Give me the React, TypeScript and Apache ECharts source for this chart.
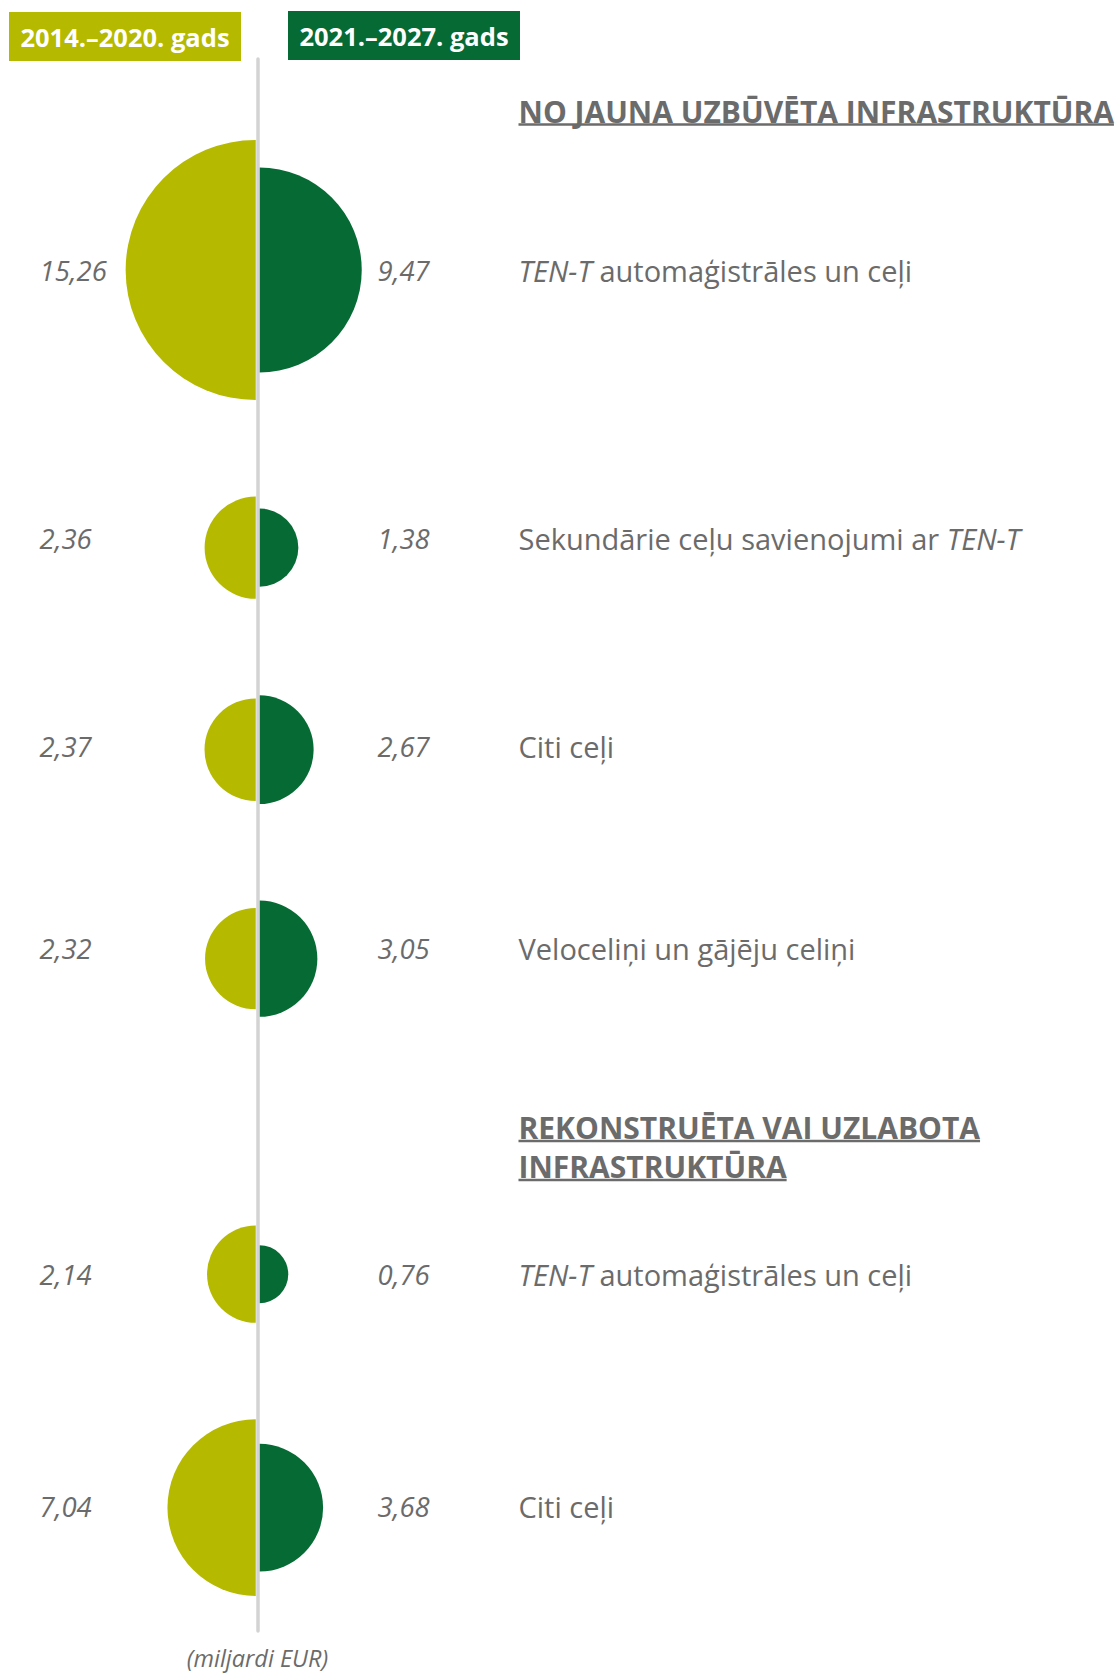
import React, { useEffect, useRef } from "react";
import * as echarts from "echarts";

// ---------- data ----------
const periodLabels = ["2014.–2020. gads", "2021.–2027. gads"];
const sectionTitles = [
  ["NO JAUNA UZBŪVĒTA INFRASTRUKTŪRA"],
  ["REKONSTRUĒTA VAI UZLABOTA", "INFRASTRUKTŪRA"],
];
const categories = [
  "TEN-T automaģistrāles un ceļi",
  "Sekundārie ceļu savienojumi ar TEN-T",
  "Citi ceļi",
  "Veloceliņi un gājēju celiņi",
  "TEN-T automaģistrāles un ceļi",
  "Citi ceļi",
];
const categorySection = [0, 0, 0, 0, 1, 1];
const values2014 = [15.26, 2.36, 2.37, 2.32, 2.14, 7.04];
const values2021 = [9.47, 1.38, 2.67, 3.05, 0.76, 3.68];
const unitNote = "(miljardi EUR)";

// ---------- style / layout ----------
const COLORS = ["#b5b900", "#066a34"];
const GRAY = "#6b6b6b";
const FONT = '"Open Sans", "Noto Sans", sans-serif';
const W = 1118;
const H = 1677;
const PX = 33.28; // px per unit of sqrt(bn EUR)
const AXIS_X = 257.5;
const GRID_TOP = 59;
const GRID_BOTTOM = 1631;
const FIRST_ROW_TOP = 140;
const ROW_GAP = 2.9; // in sqrt units
const SECTION_GAP = 6.27;
const LINE_W = 3.5;
const HEADING_OFFSET = [29, 59];
const HEADING_LINE_H = 39;
const LABEL_SHIFT = [0, -9, -3, -10, 0, -1]; // px, text row nudges
const VALUE_FS = 27.5;
const CAT_FS = 29;
const HEAD_FS = 30;

function layoutRows() {
  const centers: number[] = [];
  const tops: number[] = [];
  let bottom = 0;
  for (let i = 0; i < categories.length; i++) {
    const r = Math.sqrt(Math.max(values2014[i], values2021[i]));
    const top =
      i === 0
        ? 0
        : bottom + (categorySection[i] !== categorySection[i - 1] ? SECTION_GAP : ROW_GAP);
    tops.push(top);
    centers.push(top + r);
    bottom = top + 2 * r;
  }
  return { centers, tops };
}

const fmt = (v: number) => v.toFixed(2).replace(".", ",");
const richify = (s: string) => s.replace(/TEN-T/g, "{i|TEN-T}");

function measure(text: string, font: string) {
  const ctx = document.createElement("canvas").getContext("2d");
  if (!ctx) return text.length * 18;
  ctx.font = font;
  return ctx.measureText(text).width;
}

export default function App() {
  const ref = useRef<HTMLDivElement>(null);

  useEffect(() => {
    document.body.style.margin = "0";
    if (!ref.current) return;
    const chart = echarts.init(ref.current, undefined, { renderer: "svg" });
    const layout = layoutRows();
    const yMin = -(FIRST_ROW_TOP - GRID_TOP) / PX;
    const yMax = yMin + (GRID_BOTTOM - GRID_TOP) / PX;
    const xMin = -AXIS_X / PX;
    const xMax = xMin + W / PX;

    const data = categories.map((c, i) => ({
      name: c,
      value: [0, layout.centers[i], values2014[i], values2021[i], layout.tops[i], i],
    }));

    const option: any = {
      animation: false,
      backgroundColor: "#ffffff",
      grid: { left: 0, right: 0, top: GRID_TOP, bottom: H - GRID_BOTTOM, containLabel: false },
      xAxis: {
        type: "value",
        min: xMin,
        max: xMax,
        show: false,
      },
      yAxis: {
        type: "value",
        inverse: true,
        min: yMin,
        max: yMax,
        z: 10,
        axisLine: { show: true, onZero: true, lineStyle: { color: "#d3d3d3", width: LINE_W } },
        axisTick: { show: false },
        axisLabel: { show: false },
        splitLine: { show: false },
      },
      graphic: [
        ...periodLabels.map((t, i) => ({
          type: "group",
          children: [
            {
              type: "rect",
              shape: { x: i === 0 ? 9 : 288, y: i === 0 ? 12 : 11, width: 232, height: 49 },
              style: { fill: COLORS[i] },
            },
            {
              type: "text",
              x: (i === 0 ? 9 : 288) + 116,
              y: (i === 0 ? 12 : 11) + 25,
              style: {
                text: t,
                fill: "#ffffff",
                fontFamily: FONT,
                fontWeight: "bold",
                fontSize: 25.5,
                align: "center",
                verticalAlign: "middle",
              },
            },
          ],
        })),
        {
          type: "text",
          x: AXIS_X,
          y: 1658,
          style: {
            text: unitNote,
            fill: GRAY,
            fontFamily: FONT,
            fontStyle: "italic",
            fontSize: 23.5,
            align: "center",
            verticalAlign: "middle",
          },
        },
      ],
      series: [
        {
          type: "custom",
          clip: false,
          data,
          renderItem: (params: any, api: any) => {
            const i = api.value(5);
            const pt = api.coord([0, api.value(1)]);
            const cx = pt[0];
            const cy = pt[1];
            const ty = cy + LABEL_SHIFT[i];
            const rL = api.size([Math.sqrt(api.value(2)), 0])[0];
            const rR = api.size([Math.sqrt(api.value(3)), 0])[0];
            const half = LINE_W / 2;
            const valueStyle = {
              fill: GRAY,
              fontFamily: FONT,
              fontStyle: "italic",
              fontSize: VALUE_FS,
              verticalAlign: "middle",
            };
            const children: any[] = [
              {
                type: "sector",
                shape: {
                  cx: cx - half,
                  cy,
                  r0: 0,
                  r: rL,
                  startAngle: Math.PI / 2,
                  endAngle: Math.PI * 1.5,
                  clockwise: true,
                },
                style: { fill: COLORS[0] },
              },
              {
                type: "sector",
                shape: {
                  cx: cx + half,
                  cy,
                  r0: 0,
                  r: rR,
                  startAngle: -Math.PI / 2,
                  endAngle: Math.PI / 2,
                  clockwise: true,
                },
                style: { fill: COLORS[1] },
              },
              {
                type: "text",
                x: cx - 218,
                y: ty,
                style: { ...valueStyle, text: fmt(api.value(2)), align: "left" },
              },
              {
                type: "text",
                x: cx + 120,
                y: ty,
                style: { ...valueStyle, text: fmt(api.value(3)), align: "left" },
              },
              {
                type: "text",
                x: cx + 261,
                y: ty,
                style: {
                  text: richify(categories[i]),
                  fill: GRAY,
                  fontFamily: FONT,
                  fontSize: CAT_FS,
                  align: "left",
                  verticalAlign: "middle",
                  rich: {
                    i: {
                      fill: GRAY,
                      fontFamily: FONT,
                      fontSize: CAT_FS,
                      fontStyle: "italic",
                    },
                  },
                },
              },
            ];
            const sec = categorySection[i];
            if (i === 0 || categorySection[i - 1] !== sec) {
              const topPx = api.coord([0, api.value(4)])[1];
              const lines = sectionTitles[sec];
              lines.forEach((t, j) => {
                const y = topPx - HEADING_OFFSET[sec] - (lines.length - 1 - j) * HEADING_LINE_H;
                const w = measure(t, `bold ${HEAD_FS}px ${FONT}`);
                children.push({
                  type: "text",
                  x: cx + 261,
                  y,
                  style: {
                    text: t,
                    fill: GRAY,
                    fontFamily: FONT,
                    fontWeight: "bold",
                    fontSize: HEAD_FS,
                    align: "left",
                    verticalAlign: "middle",
                  },
                });
                children.push({
                  type: "line",
                  shape: { x1: cx + 261, y1: y + 13.5, x2: cx + 261 + w, y2: y + 13.5 },
                  style: { stroke: GRAY, lineWidth: 2.5 },
                });
              });
            }
            return { type: "group", children };
          },
        },
      ],
    };
    chart.setOption(option);
    return () => chart.dispose();
  }, []);

  return <div ref={ref} style={{ width: W, height: H }} />;
}
